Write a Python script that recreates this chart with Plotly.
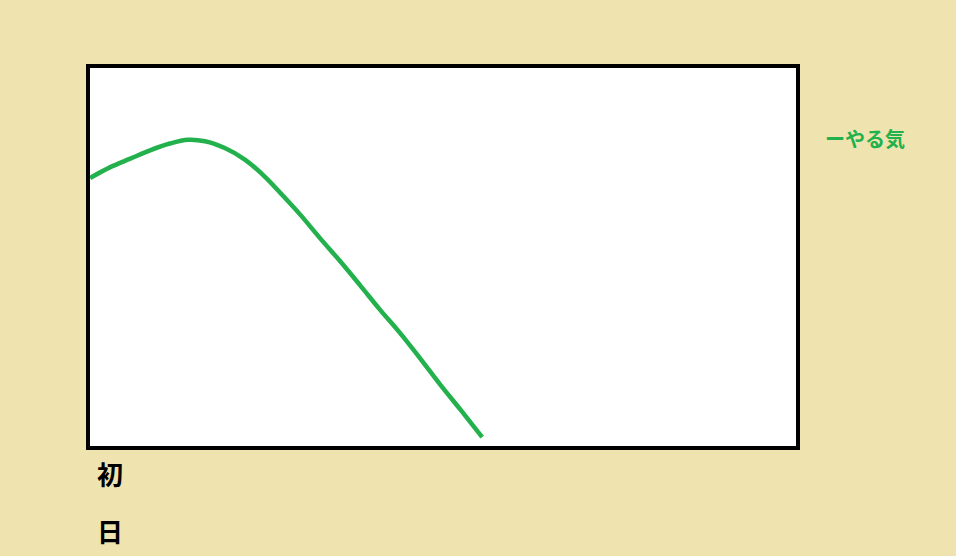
import plotly.graph_objects as go

# data (day progress vs motivation)
days = [0, 2.8, 5.7, 8.5, 11.3, 13.9, 16.3, 19.1, 22.0, 24.8, 27.2, 29.8,
        32.6, 35.5, 38.3, 41.1, 44.0, 46.8, 49.6, 52.5, 55.6]
motivation = [70.9, 73.7, 76.0, 78.2, 80.0, 81.0, 80.6, 78.8, 75.7, 71.2, 66.5, 61.2,
              55.0, 48.8, 42.5, 36.1, 29.8, 23.2, 16.4, 9.7, 2.4]
series_name = "ーやる気"
x_label_chars = ["初", "日"]

GREEN = "#22B14C"
BG = "#EFE4B0"
FONT = "Noto Sans CJK JP"

fig = go.Figure()
fig.add_trace(go.Scatter(
    x=days, y=motivation, mode="lines",
    line=dict(color=GREEN, width=4.5, shape="spline", smoothing=1.0),
    showlegend=False, hoverinfo="skip",
))

fig.update_layout(
    width=956, height=556,
    margin=dict(l=88, r=158, t=66, b=108),
    paper_bgcolor=BG, plot_bgcolor="white",
    xaxis=dict(range=[-0.3, 100.4], visible=False, fixedrange=True),
    yaxis=dict(range=[-0.5, 100.5], visible=False, fixedrange=True),
    shapes=[dict(type="rect", xref="paper", yref="paper", x0=0, x1=1, y0=0, y1=1,
                 line=dict(color="black", width=4), fillcolor="rgba(0,0,0,0)")],
    annotations=[
        dict(text="<b>" + series_name + "</b>", xref="paper", yref="paper",
             x=1.0, xshift=25, y=1.0, yshift=-72, xanchor="left", yanchor="middle",
             showarrow=False, font=dict(family=FONT, size=20, color=GREEN)),
        dict(text="<b>" + x_label_chars[0] + "</b>", xref="paper", yref="paper",
             x=0, xshift=22, y=0, yshift=-25, xanchor="center", yanchor="middle",
             showarrow=False, font=dict(family=FONT, size=26, color="black")),
        dict(text="<b>" + x_label_chars[1] + "</b>", xref="paper", yref="paper",
             x=0, xshift=22, y=0, yshift=-82, xanchor="center", yanchor="middle",
             showarrow=False, font=dict(family=FONT, size=26, color="black")),
    ],
)

fig.write_html(
    "out.html",
    config={"displayModeBar": False},
    post_script="document.body.style.margin='0';document.body.style.background='#EFE4B0';document.body.style.overflow='hidden';",
)
